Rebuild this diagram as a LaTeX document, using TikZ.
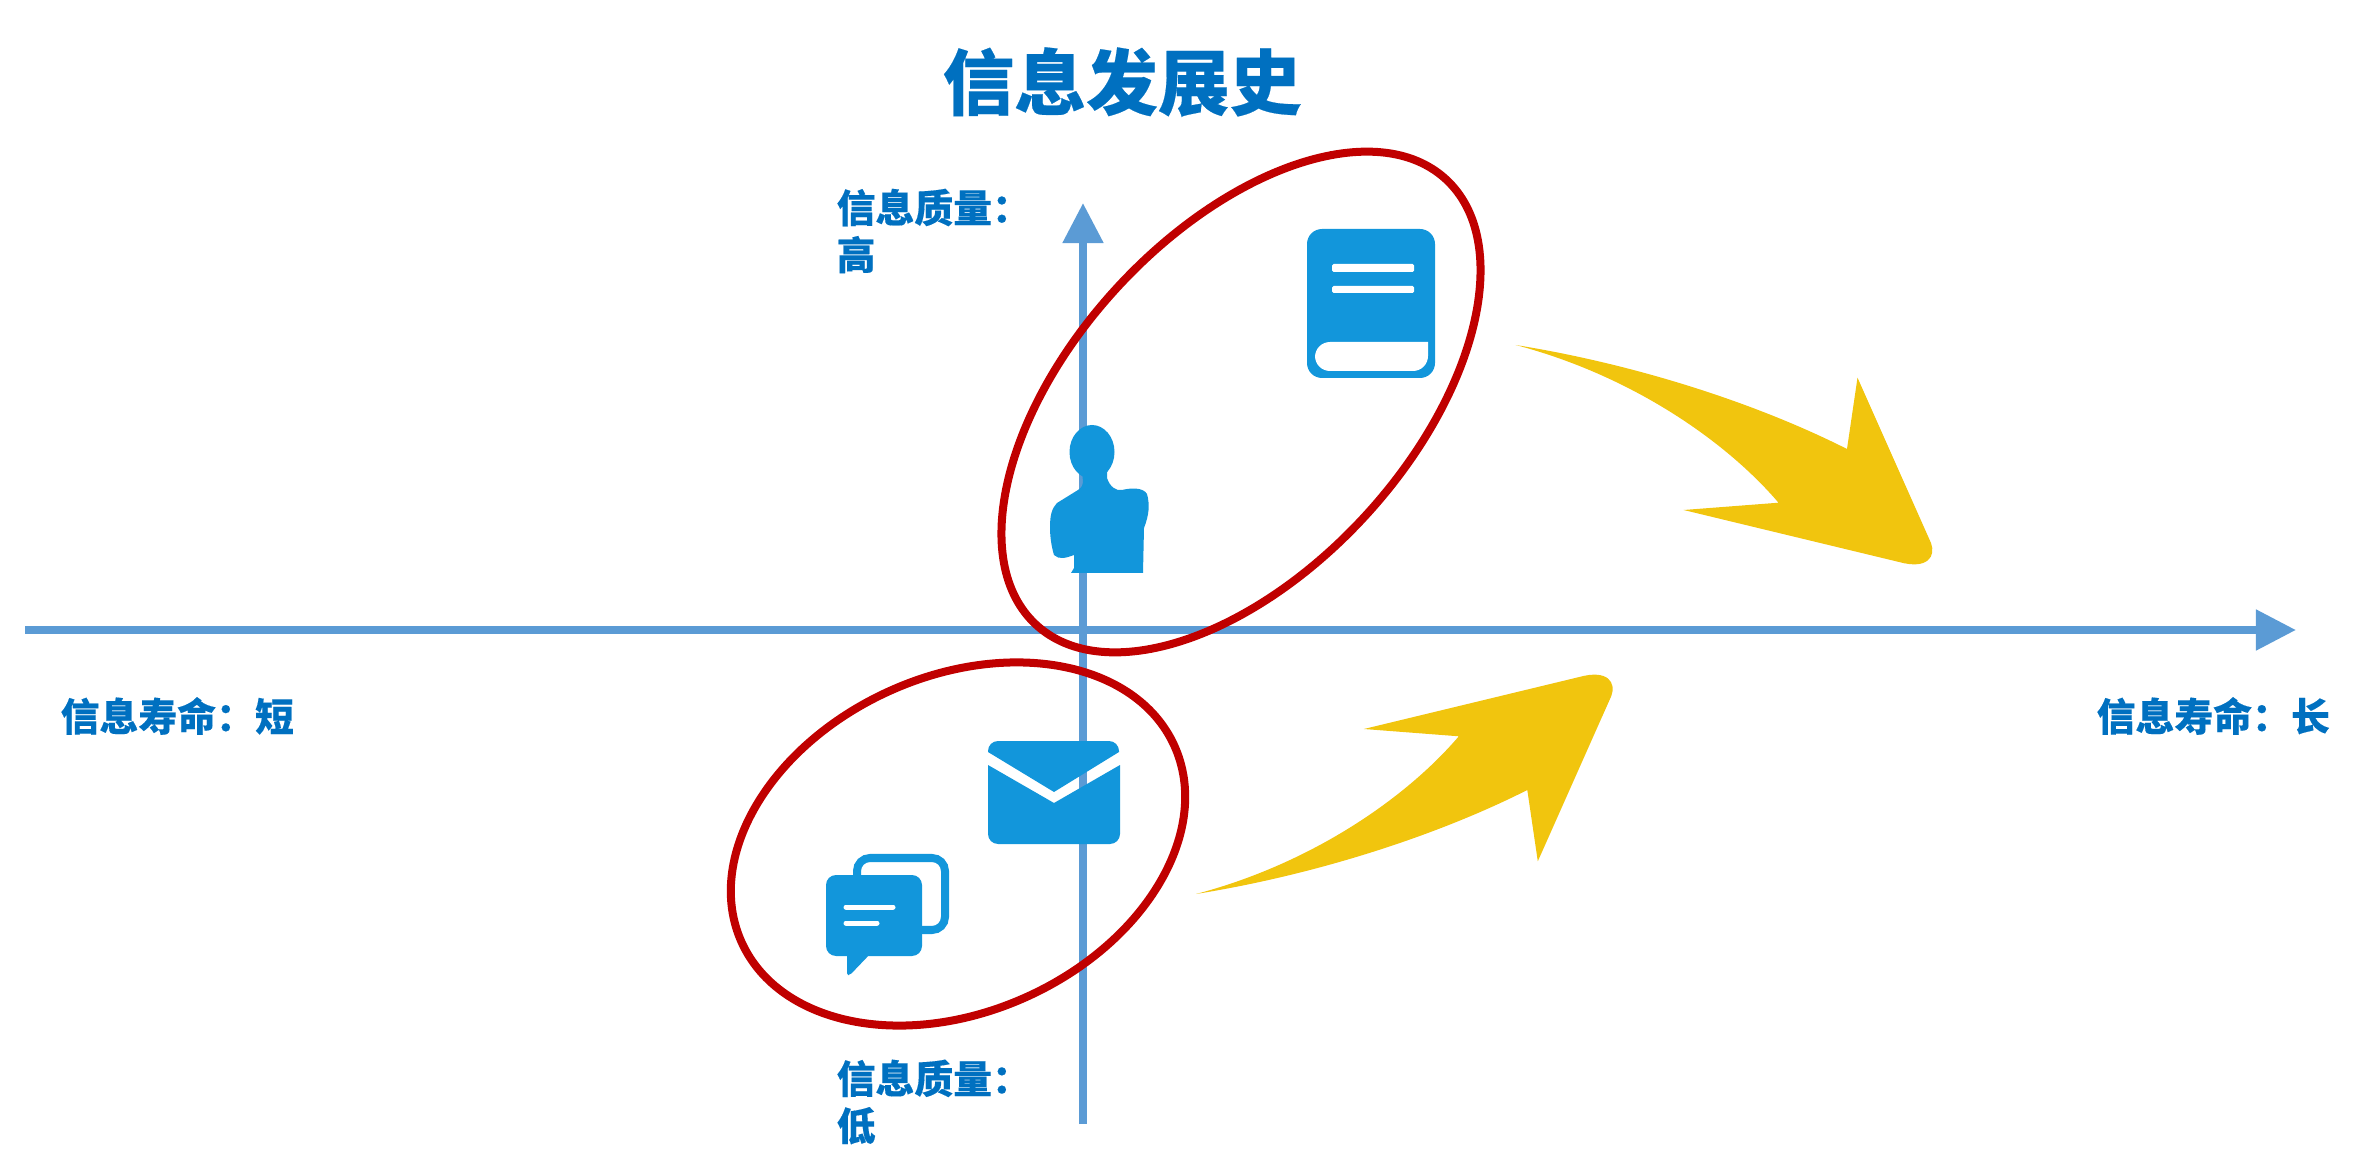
\documentclass[tikz,border=0pt]{standalone}
\usepackage{fontspec}
\setmainfont{Noto Sans CJK SC}[BoldFeatures={FakeBold=0.25}]
\usetikzlibrary{arrows.meta,shapes.geometric}
\definecolor{axisblue}{HTML}{5B9BD5}
\definecolor{textblue}{HTML}{0070C0}
\definecolor{iconblue}{HTML}{1296DB}
\definecolor{ringred}{HTML}{C00000}
\definecolor{swooshyellow}{HTML}{F1C50E}
\tikzset{
  axisline/.style={draw=axisblue,line width=.08cm,-{Triangle[length=.4cm,width=.39cm]}},
  ring/.style={draw=ringred,line width=.08cm,ellipse,inner sep=0pt,outer sep=0pt},
  titletext/.style={text=textblue,inner sep=0pt,font=\fontsize{20.4}{24}\selectfont\bfseries},
  labeltext/.style={text=textblue,inner sep=0pt,anchor=west,align=left,font=\fontsize{11.05}{13.4}\selectfont\bfseries},
  swoosh/.pic={
    \fill[swooshyellow] (1515.7,345)
      .. controls (1640,365) and (1760,405) .. (1847,449)
      -- (1857.5,377.7) -- (1931,543)
      .. controls (1936,556) and (1928,570) .. (1899,562)
      -- (1683.6,510) -- (1778.5,502.7)
      .. controls (1725,440) and (1630,375) .. cycle;
  }
}
\begin{document}
\begin{tikzpicture}[x=.01cm,y=-.01cm]
\useasboundingbox (0,0) rectangle (2371,1176);

% axes
\coordinate (xstart) at (25,630);
\coordinate (xend) at (2296,630);
\coordinate (ystart) at (1083,1124);
\coordinate (yend) at (1083,203);
\draw[axisline] (xstart) -- (xend);
\draw[axisline] (ystart) -- (yend);

% reading and talking groups
\node[ring,rotate=47.4,minimum width=6.05cm,minimum height=3.37cm] (upperring) at (1241,402) {};
\node[ring,rotate=24.5,minimum width=4.75cm,minimum height=3.35cm] (lowerring) at (958,844) {};

% book
\fill[iconblue,rounded corners=.15cm] (1307,229) rectangle (1435,378);
\fill[white,rounded corners=.015cm] (1332,264) rectangle (1414,272);
\fill[white,rounded corners=.015cm] (1332,286) rectangle (1414,293);
\fill[white] (1428,342) [rounded corners=.15cm] -- (1428,371) -- (1315,371) -- (1315,342) [sharp corners] -- cycle;

% person
\fill[iconblue] (1092,452) ellipse [x radius=22.5,y radius=27];
\fill[iconblue] (1071,573) -- (1074,568) -- (1074,555)
  .. controls (1066,558) and (1059,560) .. (1054,555)
  .. controls (1051,545) and (1050,535) .. (1050,527)
  .. controls (1050,515) and (1052,508) .. (1057,503)
  -- (1078,490) .. controls (1082,487) and (1083,485) .. (1083,482)
  -- (1082,470) -- (1107,470) -- (1107,478)
  .. controls (1110,487) and (1116,491) .. (1122,490)
  .. controls (1130,488) and (1143,487) .. (1147,494)
  .. controls (1150,505) and (1149,515) .. (1144,528)
  -- (1143,573) -- cycle;

% envelope
\fill[iconblue] (988,752) [rounded corners=.1cm] -- (988,741) -- (1119,741) [sharp corners] -- (1119,752) -- (1054,792) -- cycle;
\fill[iconblue] (988,765) -- (1054,803) -- (1120,765) [rounded corners=.1cm] -- (1120,844) -- (988,844) [sharp corners] -- cycle;

% speech bubbles
\draw[iconblue,line width=.08cm,rounded corners=.13cm] (857,858) rectangle (945,930);
\fill[iconblue,rounded corners=.1cm] (826,875) rectangle (922,956);
\fill[iconblue,rounded corners=.02cm] (847,950) -- (847,975) -- (850,975) -- (872,952) -- cycle;
\draw[white,line width=.05cm,line cap=round] (846,907) -- (893,907);
\draw[white,line width=.05cm,line cap=round] (846,923) -- (877,923);

% direction arrows
\pic {swoosh};
\begin{scope}[shift={(-319.7,1239)},yscale=-1]
  \pic[transform shape] {swoosh};
\end{scope}

% labels
\node[titletext] (title) at (1122,82) {信息发展史};
\node[labeltext] (highlabel) at (836,231) {信息质量：\\高};
\node[labeltext] (lowlabel) at (836,1102) {信息质量：\\低};
\node[labeltext] (shortlabel) at (60,716) {信息寿命：短};
\node[labeltext] (longlabel) at (2096,716) {信息寿命：长};
\end{tikzpicture}
\end{document}
